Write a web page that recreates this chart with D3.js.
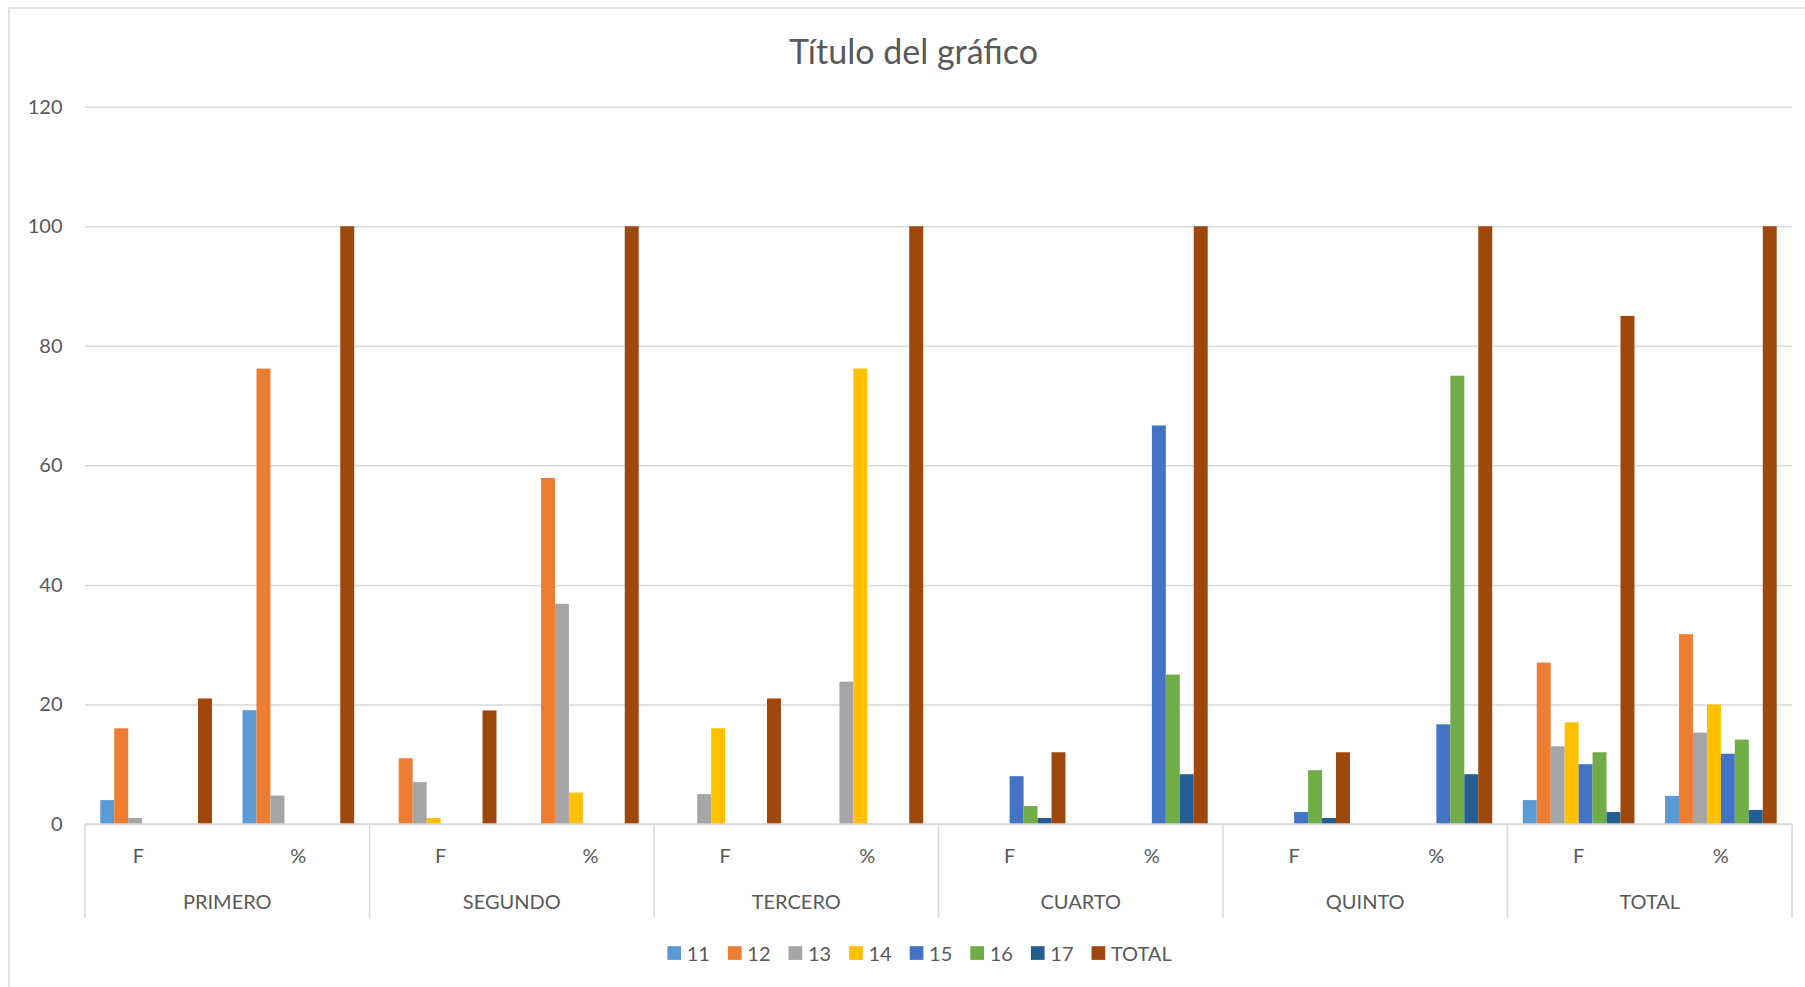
<!DOCTYPE html>
<html>
<head>
<meta charset="utf-8">
<script src="https://cdn.jsdelivr.net/npm/d3@7"></script>
<style>
  html, body { margin: 0; padding: 0; background: #fff; }
  svg { display: block; font-family: Lato, "Open Sans", sans-serif; }
  text { fill: #595959; white-space: pre; }
</style>
</head>
<body>
<svg id="chart" width="1805" height="987"></svg>
<script>
// Grades (outer category level) and the measure shown for each (inner level)
const groups = ["PRIMERO", "SEGUNDO", "TERCERO", "CUARTO", "QUINTO", "TOTAL"];
const measures = ["F", "%"];
// Text drawn under each inner category, per grade
const measureLabels = {
  PRIMERO: ["F       ", "%"],
  SEGUNDO: ["F", "   %"],
  TERCERO: ["F", "%"],
  CUARTO:  ["F", "%"],
  QUINTO:  ["F", "%"],
  TOTAL:   ["F", "%"]
};
const seriesNames = ["11", "12", "13", "14", "15", "16", "17", "TOTAL"];
const seriesColors = ["#5B9BD5", "#ED7D31", "#A5A5A5", "#FFC000", "#4472C4", "#70AD47", "#255E91", "#9E480E"];

// Values in order PRIMERO F, PRIMERO %, SEGUNDO F, SEGUNDO %, ... TOTAL F, TOTAL %
const s11    = [4, 19.05, 0, 0, 0, 0, 0, 0, 0, 0, 4, 4.71];
const s12    = [16, 76.19, 11, 57.89, 0, 0, 0, 0, 0, 0, 27, 31.76];
const s13    = [1, 4.76, 7, 36.84, 5, 23.81, 0, 0, 0, 0, 13, 15.29];
const s14    = [0, 0, 1, 5.26, 16, 76.19, 0, 0, 0, 0, 17, 20];
const s15    = [0, 0, 0, 0, 0, 0, 8, 66.67, 2, 16.67, 10, 11.76];
const s16    = [0, 0, 0, 0, 0, 0, 3, 25, 9, 75, 12, 14.12];
const s17    = [0, 0, 0, 0, 0, 0, 1, 8.33, 1, 8.33, 2, 2.35];
const sTotal = [21, 100, 19, 100, 21, 100, 12, 100, 12, 100, 85, 100];
const seriesValues = [s11, s12, s13, s14, s15, s16, s17, sTotal];

const yTicks = [0, 20, 40, 60, 80, 100, 120];
const chartTitle = "Título del gráfico";

// ---- layout ----
const plot = { left: 85, right: 1792, top: 106.7, bottom: 824 };
const svg = d3.select("#chart");
const gridColor = "#D9D9D9";

// chart area border
svg.append("rect")
  .attr("x", 9).attr("y", 8)
  .attr("width", 1900).attr("height", 1100)
  .attr("fill", "#fff").attr("stroke", gridColor).attr("stroke-width", 1.5);

// title
svg.append("text")
  .attr("x", 913.5).attr("y", 64)
  .attr("text-anchor", "middle")
  .style("font-size", "34px")
  .text(chartTitle);

// ---- scales ----
const x0 = d3.scaleBand().domain(groups).range([plot.left, plot.right]).padding(0);
const xm = d3.scaleBand().domain(measures).range([0, x0.bandwidth()]).padding(0);
const gap = 2.19; // gap between clusters, as multiple of bar width
const xs = d3.scaleBand().domain(seriesNames).range([0, xm.bandwidth()])
  .paddingInner(0).paddingOuter(gap / 2);
const y = d3.scaleLinear().domain([0, 120]).range([plot.bottom, plot.top]);

// ---- value axis with gridlines ----
const yAxis = svg.append("g")
  .attr("transform", `translate(${plot.left},0)`)
  .call(d3.axisLeft(y).tickValues(yTicks).tickSize(-(plot.right - plot.left)).tickPadding(22.5));
yAxis.select(".domain").remove();
yAxis.selectAll(".tick line").attr("stroke", gridColor).attr("stroke-width", 1.5);
yAxis.selectAll(".tick text")
  .attr("fill", "#595959")
  .style("font-size", "20px")
  .style("font-family", "Lato, sans-serif");

// ---- bars ----
const rows = [];
groups.forEach((g, gi) => {
  measures.forEach((m, mi) => {
    const idx = gi * measures.length + mi;
    seriesNames.forEach((s, si) => {
      rows.push({ group: g, measure: m, series: s, value: seriesValues[si][idx], color: seriesColors[si] });
    });
  });
});

svg.append("g").selectAll("rect")
  .data(rows.filter(d => d.value > 0))
  .join("rect")
  .attr("x", d => x0(d.group) + xm(d.measure) + xs(d.series))
  .attr("y", d => y(d.value))
  .attr("width", xs.bandwidth())
  .attr("height", d => y(0) - y(d.value))
  .attr("fill", d => d.color);

// ---- category axis (two levels) ----
svg.append("line")
  .attr("x1", plot.left).attr("x2", plot.right)
  .attr("y1", y(0)).attr("y2", y(0))
  .attr("stroke", gridColor).attr("stroke-width", 1.5);

// separators between grades
const sepX = groups.map(g => x0(g)).concat([x0(groups[groups.length - 1]) + x0.bandwidth()]);
svg.append("g").selectAll("line")
  .data(sepX)
  .join("line")
  .attr("x1", d => d).attr("x2", d => d)
  .attr("y1", y(0)).attr("y2", 918)
  .attr("stroke", gridColor).attr("stroke-width", 1.5);

// inner level: F / %
groups.forEach(g => {
  const ax = svg.append("g")
    .attr("transform", `translate(${x0(g)},${y(0)})`)
    .call(d3.axisBottom(xm).tickSize(0).tickPadding(0)
      .tickFormat(m => measureLabels[g][measures.indexOf(m)]));
  ax.select(".domain").remove();
  ax.selectAll(".tick text")
    .attr("y", 38.5).attr("dy", null)
    .attr("fill", "#595959")
    .style("font-size", "20px")
    .style("font-family", "Lato, sans-serif")
    .style("white-space", "pre");
});

// outer level: grade names
const gAxis = svg.append("g")
  .attr("transform", `translate(0,${y(0)})`)
  .call(d3.axisBottom(x0).tickSize(0).tickPadding(0));
gAxis.select(".domain").remove();
gAxis.selectAll(".tick text")
  .attr("y", 85).attr("dy", null)
  .attr("fill", "#595959")
  .style("font-size", "20px")
  .style("font-family", "Lato, sans-serif");

// ---- legend ----
const sw = 13.7, swGap = 5.7, itemGap = 18;
const legend = svg.append("g");
let cx = 0;
seriesNames.forEach((s, i) => {
  const item = legend.append("g").attr("transform", `translate(${cx},0)`);
  item.append("rect").attr("x", 0).attr("y", -14.3).attr("width", sw).attr("height", sw)
    .attr("fill", seriesColors[i]);
  const t = item.append("text").attr("x", sw + swGap).attr("y", 0)
    .style("font-size", "20px").text(s);
  cx += sw + swGap + t.node().getComputedTextLength() + itemGap;
});
const legendWidth = cx - itemGap;
legend.attr("transform", `translate(${919.5 - legendWidth / 2},960.5)`);
</script>
</body>
</html>
